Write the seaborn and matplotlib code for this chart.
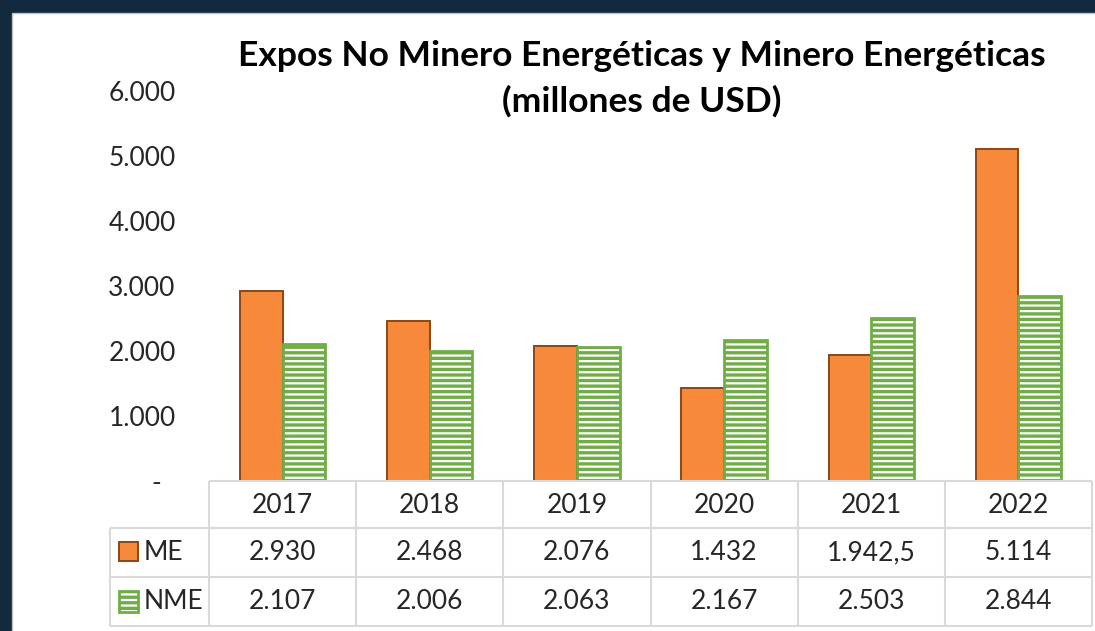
import pandas as pd
import matplotlib
matplotlib.use("Agg")
import matplotlib.pyplot as plt
import seaborn as sns
from matplotlib.patches import Rectangle

# datos (millones de USD)
years = ["2017", "2018", "2019", "2020", "2021", "2022"]
me_values = [2930, 2468, 2076, 1432, 1942.5, 5114]
nme_values = [2107, 2006, 2063, 2167, 2503, 2844]
series_names = ["ME", "NME"]
y_ticks = [0, 1000, 2000, 3000, 4000, 5000, 6000]

ORANGE = "#F7893B"
ORANGE_EDGE = "#8C4614"
GREEN = "#70AD47"
NAVY = "#13293D"
LINE = "#D9D9D9"
FS = 19


def fmt_es(v):
    # formato con punto de miles y coma decimal
    if v == 0:
        return "-  "
    if float(v).is_integer():
        return f"{int(v):,}".replace(",", ".")
    return f"{v:,.1f}".replace(",", "X").replace(".", ",").replace("X", ".")


df = pd.DataFrame({
    "year": years * 2,
    "value": me_values + nme_values,
    "serie": [series_names[0]] * len(years) + [series_names[1]] * len(years),
})

sns.set_theme(style="white")
plt.rcParams['font.family'] = ['Lato', 'DejaVu Sans']
plt.rcParams['hatch.linewidth'] = 2.4

W, H = 1095, 631
fig = plt.figure(figsize=(W / 100, H / 100), dpi=100, facecolor=NAVY)
fig.patches.append(Rectangle((12 / W, -0.01), 1.0, 1.01 - 13 / H, transform=fig.transFigure,
                             facecolor="white", edgecolor="#BFBFBF", lw=1, zorder=-5))

ax = fig.add_axes([209 / W, 1 - 481 / H, (1092 - 209) / W, (481 - 91) / H], zorder=1)
ax.set_facecolor("none")
sns.barplot(data=df, x="year", y="value", hue="serie", palette=[ORANGE, "white"],
            width=0.58, saturation=1, errorbar=None, legend=False, ax=ax)

for bar in ax.containers[0]:
    bar.set_edgecolor(ORANGE_EDGE)
    bar.set_linewidth(1.4)
for bar in ax.containers[1]:
    bar.set_facecolor("white")
    bar.set_edgecolor(GREEN)
    bar.set_hatch("---")
    bar.set_linewidth(2.0)

ax.set_ylim(0, 6000)
ax.set_xlim(-0.5, len(years) - 0.5)
ax.set_yticks(y_ticks)
ax.set_yticklabels([fmt_es(t) for t in y_ticks], fontsize=FS, color="#262626")
ax.set_xticks([])
ax.set_xlabel("")
ax.set_ylabel("")
ax.tick_params(axis="y", length=0, pad=24)
sns.despine(ax=ax, left=True, bottom=True)

fig.text(642 / W, 1 - 79 / H, "Expos No Minero Energéticas y Minero Energéticas\n(millones de USD)",
         ha="center", va="center", fontsize=25.5, fontweight="bold", color="black", linespacing=1.5)

# tabla de datos debajo del eje
tab = fig.add_axes([0, 0, 1, 1], zorder=3)
tab.set_facecolor("none")
tab.set_xlim(0, W)
tab.set_ylim(H, 0)
tab.axis("off")

to_px = lambda xd: ax.transData.transform((xd, 0))[0]
col_edges = [to_px(i - 0.5) for i in range(len(years) + 1)]
col_mid = [to_px(i) for i in range(len(years))]
rows = [481, 528, 577, 626]
leg_left = 110

tab.hlines(rows[0], col_edges[0], col_edges[-1], color=LINE, lw=1.5)
tab.hlines(rows[1:], leg_left, col_edges[-1], color=LINE, lw=1.5)
tab.vlines(col_edges, rows[0], rows[-1], color=LINE, lw=1.5)
tab.vlines(leg_left, rows[1], rows[-1], color=LINE, lw=1.5)

txt = dict(ha="center", va="center", fontsize=FS, color="#262626")
for x, yr in zip(col_mid, years):
    tab.text(x, (rows[0] + rows[1]) / 2 + 1, yr, **txt)
for x, v in zip(col_mid, me_values):
    tab.text(x, (rows[1] + rows[2]) / 2, fmt_es(v), **txt)
for x, v in zip(col_mid, nme_values):
    tab.text(x, (rows[2] + rows[3]) / 2, fmt_es(v), **txt)

tab.add_patch(Rectangle((119, 542), 19, 19, facecolor=ORANGE, edgecolor=ORANGE_EDGE, lw=1.4))
tab.add_patch(Rectangle((119, 591), 19, 21, facecolor="white", edgecolor=GREEN, hatch="---", lw=2.0))
tab.text(144, (rows[1] + rows[2]) / 2, series_names[0], ha="left", va="center", fontsize=FS, color="#262626")
tab.text(144, (rows[2] + rows[3]) / 2, series_names[1], ha="left", va="center", fontsize=FS, color="#262626")

fig.savefig("out.png", dpi=100, facecolor=NAVY)
